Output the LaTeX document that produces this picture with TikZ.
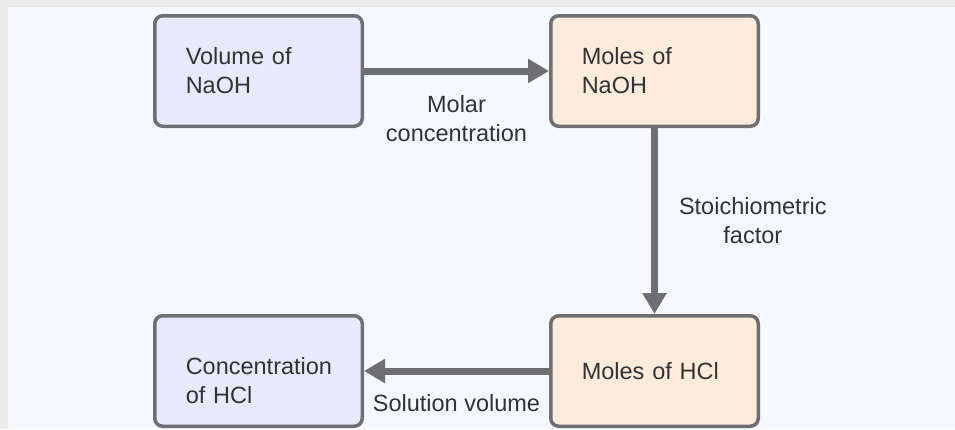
\documentclass[tikz,border=0pt]{standalone}
\usepackage{fontspec}
\setmainfont{Liberation Sans}
\usepackage{tikz}
\usetikzlibrary{arrows.meta,positioning}
\definecolor{pagebg}{HTML}{F5F9FE}
\definecolor{framegrey}{HTML}{EBEBEB}
\definecolor{boxline}{HTML}{6E6E73}
\definecolor{inkgrey}{HTML}{333333}
\definecolor{lavender}{HTML}{E8E9FC}
\definecolor{peach}{HTML}{FDEBDC}

\begin{document}
\begin{tikzpicture}[x=1pt,y=-1pt,node distance=185pt,
  box/.style={draw=boxline,line width=3.5pt,rounded corners=8pt,inner xsep=31pt,text width=145.5pt,minimum height=110.5pt,align=left,text=inkgrey,font=\fontsize{23.5}{29}\selectfont},
  lab/.style={inner sep=0pt,align=center,text=inkgrey,font=\fontsize{23.5}{29}\selectfont},
  flow/.style={->,draw=boxline,line width=7pt,>={Triangle[width=23pt,length=21pt]}}]
\fill[framegrey] (0,0) rectangle (955,429);
\fill[pagebg] (8,7) rectangle (955,429);
\useasboundingbox (0,0) rectangle (955,429);

\node[box,fill=lavender] (volnaoh) at (258.5,71) {Volume of\\NaOH};
\node[box,fill=peach,right=of volnaoh] (molnaoh) {Moles of\\NaOH};
\node[box,fill=peach,below=186pt of molnaoh] (molhcl) {Moles of HCl};
\node[box,fill=lavender,left=of molhcl,text height=37pt] (conchcl) {Concentration\\of HCl};

\draw[flow] (volnaoh) -- node[lab,below=21pt] {Molar\\concentration} (molnaoh);
\draw[flow] (molnaoh) -- node[lab,right=21pt] {Stoichiometric\\factor} (molhcl);
\draw[flow] (molhcl) -- node[lab,below=20pt] {Solution volume} (conchcl);
\end{tikzpicture}
\end{document}
